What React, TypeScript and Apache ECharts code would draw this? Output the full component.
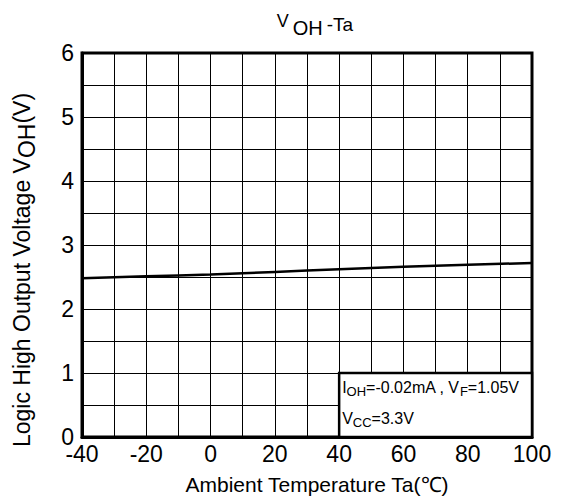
import React, { useEffect, useRef } from "react";
import * as echarts from "echarts";

const temps = [-40, -20, 0, 20, 40, 60, 80, 100];
const voh = [2.48, 2.51, 2.54, 2.58, 2.62, 2.66, 2.69, 2.72];
const xTickLabels = [-40, -20, 0, 20, 40, 60, 80, 100];
const yTickLabels = [0, 1, 2, 3, 4, 5, 6];
const noteBox = { x0: 40, x1: 100, y0: 0, y1: 1 };
const FONT = "Liberation Sans, Arial, sans-serif";

export default function App() {
  const ref = useRef<HTMLDivElement>(null);
  useEffect(() => {
    if (!ref.current) return;
    const chart = echarts.init(ref.current, null, { renderer: "svg" });
    const option: any = {
      animation: false,
      backgroundColor: "#fff",
      textStyle: { fontFamily: FONT },
      grid: {
        left: 74,
        top: 45,
        width: 450,
        height: 384,
        show: true,
        borderColor: "#000",
        borderWidth: 3,
        backgroundColor: "transparent",
      },
      xAxis: {
        type: "value",
        min: -40,
        max: 100,
        interval: 10,
        axisLine: { show: true, onZero: false, lineStyle: { color: "#000", width: 3 } },
        axisTick: { show: false },
        axisLabel: {
          fontSize: 23,
          color: "#000",
          fontFamily: FONT,
          margin: 5,
          formatter: (v: number) => (xTickLabels.includes(v) ? String(v) : ""),
        },
        splitLine: { show: true, lineStyle: { color: "#000", width: 1 } },
      },
      yAxis: {
        type: "value",
        min: 0,
        max: 6,
        interval: 0.5,
        axisLine: { show: true, onZero: false, lineStyle: { color: "#000", width: 3 } },
        axisTick: { show: false },
        axisLabel: {
          fontSize: 23,
          color: "#000",
          fontFamily: FONT,
          margin: 8,
          formatter: (v: number) => (yTickLabels.includes(v) ? String(v) : ""),
        },
        splitLine: { show: true, lineStyle: { color: "#000", width: 1 } },
      },
      series: [
        {
          type: "line",
          data: temps.map((t, i) => [t, voh[i]]),
          showSymbol: false,
          smooth: true,
          lineStyle: { color: "#000", width: 2.5 },
          z: 3,
          markArea: {
            silent: true,
            itemStyle: { color: "#fff", borderColor: "#000", borderWidth: 2.5 },
            label: { show: false },
            data: [[{ xAxis: noteBox.x0, yAxis: noteBox.y1 }, { xAxis: noteBox.x1, yAxis: noteBox.y0 }]],
          },
        },
      ],
    };
    chart.setOption(option);

    const [bx, by] = chart.convertToPixel({ gridIndex: 0 }, [noteBox.x0, noteBox.y1]) as number[];
    const gl = chart.convertToPixel({ gridIndex: 0 }, [-40, 0]) as number[];
    const gr = chart.convertToPixel({ gridIndex: 0 }, [100, 6]) as number[];
    const cx = (gl[0] + gr[0]) / 2;
    const cy = (gl[1] + gr[1]) / 2;

    const noteRich = {
      n: { fontSize: 16, fontFamily: FONT, fill: "#000", verticalAlign: "top", padding: [0, 0, 0, 0] },
      s: { fontSize: 13, fontFamily: FONT, fill: "#000", verticalAlign: "top", padding: [5.5, 0, 0, 0] },
    };
    const titleRich = {
      a: { fontSize: 18, fontFamily: FONT, fill: "#000", verticalAlign: "top", padding: [0, 0, 0, 0] },
      b: { fontSize: 20, fontFamily: FONT, fill: "#000", verticalAlign: "top", padding: [5.9, 0, 0, 4] },
      c: { fontSize: 19, fontFamily: FONT, fill: "#000", verticalAlign: "top", padding: [2.8, 0, 0, 4] },
    };
    const yRich = {
      n: { fontSize: 23, fontFamily: FONT, fill: "#000", verticalAlign: "top", padding: [0, 0, 0, 0] },
      s: { fontSize: 23, fontFamily: FONT, fill: "#000", verticalAlign: "top", padding: [5, 0, 0, 0] },
    };

    chart.setOption({
      graphic: [
        {
          type: "text",
          x: cx + 8,
          y: 4,
          style: {
            text: "{a|V}{b|OH}{c|-Ta}",
            align: "center",
            verticalAlign: "top",
            rich: titleRich,
          },
        },
        {
          type: "text",
          x: cx + 10,
          y: 466,
          style: {
            text: "Ambient Temperature Ta(℃)",
            align: "center",
            verticalAlign: "top",
            font: `21px ${FONT}`,
            fill: "#000",
          },
        },
        {
          type: "text",
          x: 16,
          y: cy + 25,
          rotation: Math.PI / 2,
          style: {
            text: "{n|Logic High Output Voltage V}{s|OH}{n|(V)}",
            align: "center",
            verticalAlign: "middle",
            rich: yRich,
          },
        },
        {
          type: "text",
          x: bx + 3,
          y: by + 6,
          z: 10,
          style: {
            text: "{n|I}{s|OH}{n|=-0.02mA , V}{s|F}{n|=1.05V}",
            align: "left",
            verticalAlign: "top",
            rich: noteRich,
          },
        },
        {
          type: "text",
          x: bx + 3,
          y: by + 37,
          z: 10,
          style: {
            text: "{n|V}{s|CC}{n|=3.3V}",
            align: "left",
            verticalAlign: "top",
            rich: noteRich,
          },
        },
      ],
    });
    return () => chart.dispose();
  }, []);
  return <div ref={ref} style={{ width: 555, height: 494 }} />;
}
